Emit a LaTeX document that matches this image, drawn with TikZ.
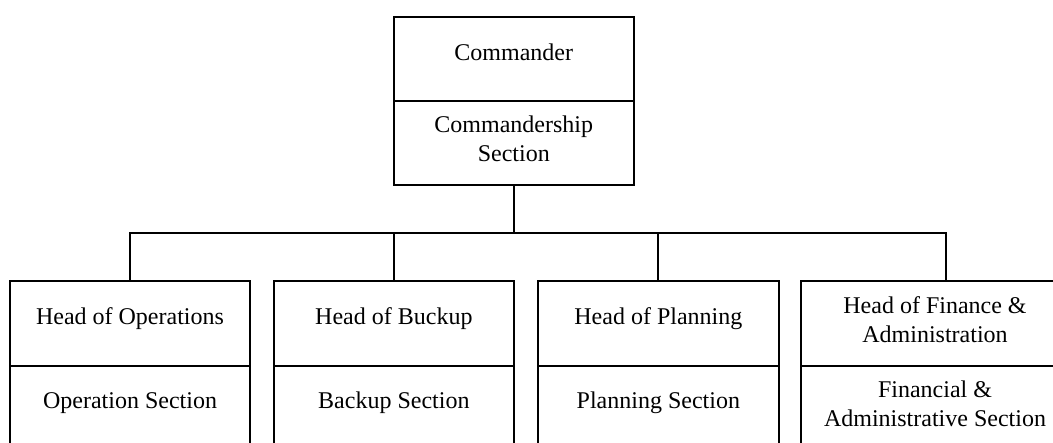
\documentclass[tikz,border=0pt]{standalone}
\usepackage{fontspec}
\setmainfont{Liberation Serif}
\begin{document}
\begin{tikzpicture}[x=0.5pt,y=-0.5pt,
  box/.style={draw,line width=1pt,inner sep=0pt,minimum width=#1},
  txt/.style={font=\fontsize{12}{14.5}\selectfont,align=center,inner sep=0pt,anchor=base},
  wire/.style={line width=1pt}]
\useasboundingbox (0,0) rectangle (1053,443);
\clip (0,0) rectangle (1053,443);
% top unit (1 unit = 0.5pt, so widths/heights in pt are half the coordinate span)
\node[box=120.25pt,minimum height=42pt] (cmd) at (513.75,59) {};
\node[box=120.25pt,minimum height=42pt] (cs) at (513.75,143) {};
\node[txt] (cmdT) at (513.75,61) {Commander};
\node[txt] (csT) at (513.75,162) {Commandership\\Section};
% bottom units
\node[box=120.15pt,minimum height=42.5pt] (h1) at (129.85,323.5) {};
\node[box=120.15pt,minimum height=47pt] (s1) at (129.85,413) {};
\node[box=120.15pt,minimum height=42.5pt] (h2) at (393.85,323.5) {};
\node[box=120.15pt,minimum height=47pt] (s2) at (393.85,413) {};
\node[box=120.65pt,minimum height=42.5pt] (h3) at (658.35,323.5) {};
\node[box=120.65pt,minimum height=47pt] (s3) at (658.35,413) {};
\node[box=144.7pt,minimum height=42.5pt] (h4) at (946,323.5) {};
\node[box=144.7pt,minimum height=47pt] (s4) at (946,413) {};
\node[txt] (h1T) at (130,324) {Head of Operations};
\node[txt] (s1T) at (130,408) {Operation Section};
\node[txt] (h2T) at (393.85,324) {Head of Buckup};
\node[txt] (s2T) at (393.85,408) {Backup Section};
\node[txt] (h3T) at (658.35,324) {Head of Planning};
\node[txt] (s3T) at (658.35,408) {Planning Section};
\node[txt] (h4T) at (935,342) {Head of Finance \&\\Administration};
\node[txt] (s4T) at (935,426) {Financial \&\\Administrative Section};
% connectors
\coordinate (bus) at (513.75,233);
\draw[wire] (cs.south) -- (bus);
\draw[wire] (h1.north) |- (h4.north |- bus) -- (h4.north);
\draw[wire] (h2.north) -- (h2.north |- bus);
\draw[wire] (h3.north) -- (h3.north |- bus);
\end{tikzpicture}
\end{document}
